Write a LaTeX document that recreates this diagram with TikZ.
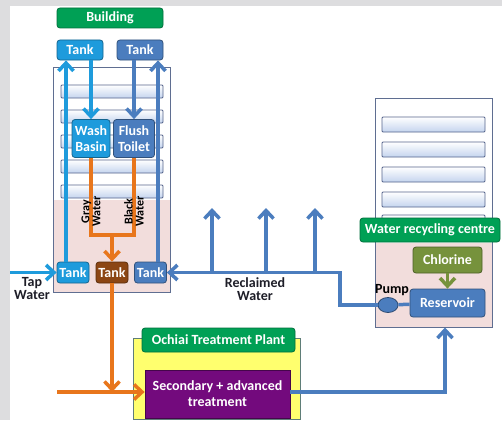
\documentclass[tikz,border=0pt]{standalone}
\usepackage{fontspec}
\setmainfont{Carlito}
\usetikzlibrary{arrows.meta,shapes,positioning}

\definecolor{backgray}{RGB}{221,221,223}
\definecolor{lblgreen}{RGB}{0,160,85}
\definecolor{pipecyan}{RGB}{30,155,220}
\definecolor{pipeblue}{RGB}{75,125,190}
\definecolor{pipeorange}{RGB}{232,118,28}
\definecolor{tankbrown}{RGB}{140,70,20}
\definecolor{floorblue}{RGB}{196,212,238}
\definecolor{floorline}{RGB}{85,100,140}
\definecolor{houseline}{RGB}{95,110,145}
\definecolor{wallpink}{RGB}{242,221,220}
\definecolor{plantyellow}{RGB}{255,255,110}
\definecolor{plantline}{RGB}{95,125,120}
\definecolor{secpurple}{RGB}{115,10,125}
\definecolor{chlorolive}{RGB}{118,146,60}
\definecolor{inkdark}{RGB}{30,30,40}

\begin{document}
\begin{tikzpicture}[x=1pt,y=-1pt,>={Straight Barb[length=8pt,width=15pt]},
                    every text node part/.style={align=center},
                    font=\fontsize{14}{16}\selectfont\bfseries,text=inkdark]
  \tikzstyle{box}=[draw,rounded corners=3pt,text=white,inner sep=0pt,line width=0.8pt]
  \tikzstyle{tankbox}=[box,minimum width=32,minimum height=21]
  \tikzstyle{greenbox}=[box,fill=lblgreen,draw=lblgreen!70!black]
  \tikzstyle{cyanbox}=[box,fill=pipecyan,draw=pipecyan!65!black]
  \tikzstyle{bluebox}=[box,fill=pipeblue,draw=pipeblue!65!black]
  \tikzstyle{floorbar}=[draw=floorline,rounded corners=1pt,top color=white,bottom color=floorblue,line width=0.8pt]
  \tikzstyle{house}=[draw=houseline,line width=1pt]
  \tikzstyle{cyanpipe}=[draw=pipecyan,line width=3.5pt]
  \tikzstyle{bluepipe}=[draw=pipeblue,line width=3.5pt]
  \tikzstyle{orangepipe}=[draw=pipeorange,line width=3.5pt]
  \tikzstyle{olivepipe}=[draw=chlorolive,line width=3.5pt]

  \useasboundingbox (0,0) rectangle (502,420);
  \fill[backgray] (0,0) rectangle (502,420);
  \fill[white] (10,6) rectangle (502,420);

  % building
  \fill[wallpink] (53,200) rectangle (170,292);
  \foreach \y in {85,110,135,160,185}
    \draw[floorbar] (61,\y) rectangle (163,\y+13);
  \node[house,minimum width=117,minimum height=225] (bld) at (111.5,179.5) {};

  \node[greenbox,minimum width=106,minimum height=20] (bldlbl) at (110,18) {Building};
  \node[cyanbox,minimum width=46,minimum height=20] (topA) at (80,50) {Tank};
  \node[bluebox,minimum width=46,minimum height=20] (topB) at (140,50) {Tank};
  \node[cyanbox,minimum width=38,minimum height=38] (wash) at (91,138.5) {Wash\\Basin};
  \node[bluebox,minimum width=41,minimum height=38] (flush) at (134,138.5) {Flush\\Toilet};
  \node[tankbox,fill=pipecyan,draw=pipecyan!65!black] (tankL) at (73,272.5) {Tank};
  \node[tankbox,fill=tankbrown,draw=tankbrown!65!black] (tankM) at (112,272.5) {Tank};
  \node[tankbox,fill=pipeblue,draw=pipeblue!65!black] (tankR) at (150.5,272.5) {Tank};

  \coordinate (gx) at (66,0);
  \coordinate (bx) at (158,0);
  \draw[cyanpipe,->] (tankL.north -| gx) -- (topA.south -| gx);
  \draw[cyanpipe,->] (topA.south -| wash.north) -- (wash.north);
  \draw[bluepipe,->] (topB.south -| flush.north) -- (flush.north);
  \draw[bluepipe,->] (tankR.north -| bx) -- (topB.south -| bx);

  \coordinate (ojoin) at (112,235);
  \draw[orangepipe] (wash.south) -- (wash.south |- ojoin) -- (flush.south |- ojoin) -- (flush.south);
  \draw[orangepipe,->] (ojoin) -- (tankM.north);

  \coordinate (wlbl) at (0,227);
  \node[rotate=90,anchor=west,align=left,inner sep=0pt,text=black,
        font=\fontsize{12}{11}\selectfont\bfseries] (gray) at (wash.south |- wlbl) {Gray\\Water};
  \node[rotate=90,anchor=west,align=left,inner sep=0pt,text=black,
        font=\fontsize{12}{11}\selectfont\bfseries] (black) at (flush.south |- wlbl) {Black\\Water};

  % tap water
  \coordinate (tapin) at (10,272.5);
  \draw[cyanpipe,->] (tapin) -- (tankL.west);
  \node[font=\fontsize{14}{13}\selectfont\bfseries] (tap) at (32,289) {Tap\\Water};

  % treatment plant
  \node[draw=plantline,fill=plantyellow,line width=1pt,minimum width=167,minimum height=81] (plant) at (216.5,378.5) {};
  \node[greenbox,minimum width=153,minimum height=24] (plantlbl) at (218.5,340) {Ochiai Treatment Plant};
  \node[box,fill=secpurple,draw=secpurple!60!black,rounded corners=0pt,minimum width=145,minimum height=48] (sec) at (217.5,394) {Secondary + advanced\\treatment};

  \coordinate (oin) at (57,392);
  \draw[orangepipe,->] (tankM.south) -- (tankM.south |- oin);
  \draw[orangepipe,->] (oin) -- (sec.west |- oin);

  % water recycling centre
  \fill[wallpink] (375,243) rectangle (492,327);
  \foreach \y in {117,142,167,192,215}
    \draw[floorbar] (382,\y) rectangle (485,\y+15);
  \node[house,minimum width=117,minimum height=229] (rc) at (433.5,212.5) {};
  \node[greenbox,minimum width=140,minimum height=24] (rclbl) at (430,230) {Water recycling centre};
  \node[box,fill=chlorolive,draw=chlorolive!65!black,minimum width=69,minimum height=26] (chlor) at (447.5,260) {Chlorine};
  \node[bluebox,minimum width=75,minimum height=28] (res) at (447.5,303) {Reservoir};
  \node[ellipse,draw=pipeblue!60!black,fill=pipeblue,line width=0.8pt,
        minimum width=20,minimum height=15,inner sep=0pt] (pump) at (388,305) {};
  \node[text=black] (pumplbl) at (392,290) {Pump};

  \draw[olivepipe,->] (chlor) -- (res);
  \draw[bluepipe] (pump) -- (res);
  \coordinate (rbend) at (340,272.5);
  \draw[bluepipe,->] (pump.west) -| (rbend) -- (tankR.east);
  \foreach \x [count=\i] in {212,266,315} {
    \coordinate (up\i) at (\x,208);
    \draw[bluepipe,->] (up\i |- rbend) -- (up\i);
  }
  \node[font=\fontsize{14}{13}\selectfont\bfseries] (reclbl) at (255,289) {Reclaimed\\Water};

  \coordinate (rcin) at (445,0);
  \draw[bluepipe,->] (sec.east |- oin) -| (rc.south -| rcin);
\end{tikzpicture}
\end{document}
